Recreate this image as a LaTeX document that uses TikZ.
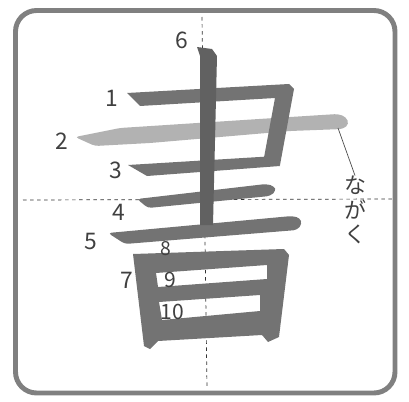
\documentclass[tikz,border=0pt]{standalone}
\usepackage{fontspec}
\newfontfamily\jpfont{Noto Sans CJK JP}
\usetikzlibrary{positioning}

\begin{document}
\begin{tikzpicture}[x=0.02cm,y=-0.02cm,
  boxframe/.style={draw=black!50,line width=2.8pt,rounded corners=12pt},
  guide/.style={black!80,line width=0.4pt,dash pattern=on 2pt off 2pt},
  stroke/.style={fill=black!55,draw=none},
  faint/.style={fill=black!30,draw=none},
  num/.style={font=\jpfont\fontsize{13}{13}\selectfont,inner sep=0pt,text=black!75},
  lead/.style={draw=black!70,line width=0.4pt}
]
  \useasboundingbox (0,0) rectangle (409,402);
  \draw[boxframe] (15.5,10.5) rectangle (395,393);
  % guide lines
  \draw[guide] (23,200) -- (393,199);
  \draw[guide] (202,17) -- (207,388);
  % strokes of the character
  \fill[faint,rounded corners=2pt] (75,137) -- (120,128) -- (290,117) -- (338,114)
      -- (346,117) -- (349,124) -- (343,129) -- (290,131) -- (150,143) -- (95,146) -- cycle;
  \fill[stroke] (127,93) -- (289,84) -- (294,89) -- (280,165) -- (263,163)
      -- (275,98) -- (140,106) -- cycle;
  \fill[stroke] (128,165) -- (276,156) -- (280,166) -- (147,176) -- cycle;
  \fill[stroke,rounded corners=2pt] (137,199) -- (266,184) -- (274,186) -- (276,191)
      -- (270,196) -- (148,208) -- cycle;
  \fill[stroke,rounded corners=2pt] (108,233) -- (292,216) -- (300,218) -- (302,224)
      -- (297,230) -- (125,244) -- cycle;
  \fill[stroke,fill=black!62] (197,47) -- (212,49) -- (217,56) -- (213,225)
      -- (200,225) -- (200,56) -- cycle;
  \fill[stroke,even odd rule] (133,254) -- (284,249) -- (289,255) -- (279,337)
      -- (268,342) -- (262,335) -- (158,341) -- (150,349) -- (144,346) -- cycle
      (156,273) -- (267,265) -- (267,279) -- (158,287) -- cycle
      (159,302) -- (260,295) -- (260,311) -- (162,320) -- cycle;
  % stroke numbers
  \node[num] (n1) at (112,98)  {1};
  \node[num] (n2) at (62,141)  {2};
  \node[num] (n3) at (116,170) {3};
  \node[num] (n4) at (119,212) {4};
  \node[num] (n5) at (91,242)  {5};
  \node[num] (n6) at (182,40)  {6};
  \node[num] (n7) at (127,280) {7};
  \node[num,font=\jpfont\fontsize{11}{11}\selectfont] (n8) at (166,249) {8};
  \node[num,font=\jpfont\fontsize{12}{12}\selectfont] (n9) at (170,280) {9};
  \node[num,font=\jpfont\fontsize{12}{12}\selectfont] (n10) at (172,312) {10};
  % note on stroke 2
  \node[font=\jpfont\fontsize{12.5}{14}\selectfont,align=center,inner sep=0pt,text=black!75]
      (naga) at (355,210) {な\\が\\く};
  \coordinate (s2end) at (338,128);
  \draw[lead] (s2end) -- (naga.north);
\end{tikzpicture}
\end{document}
